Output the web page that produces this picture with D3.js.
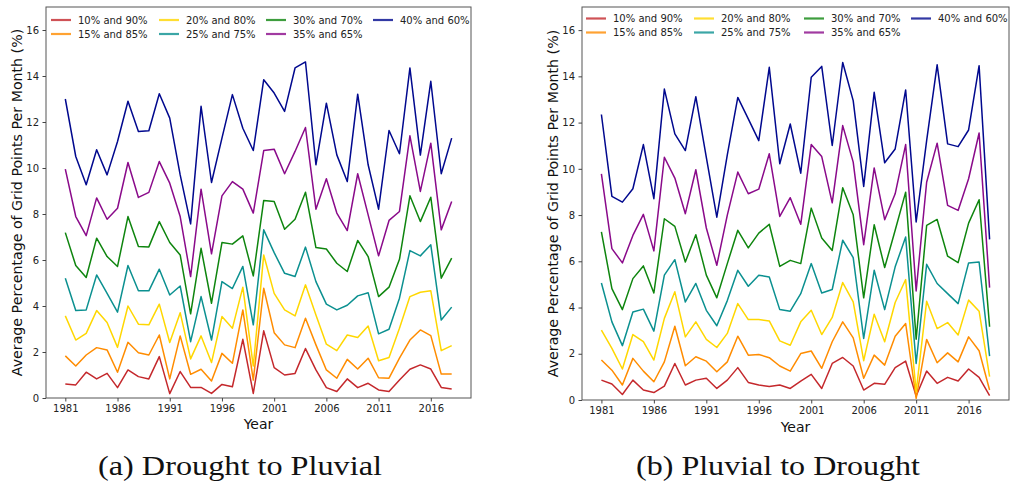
<!DOCTYPE html>
<html><head><meta charset="utf-8">
<script src="https://cdn.jsdelivr.net/npm/d3@7"></script>
<style>body{margin:0;background:#fff;} svg{display:block;}</style>
</head><body><svg id="c" width="1013" height="483"></svg>
<script>
const years = [1981,1982,1983,1984,1985,1986,1987,1988,1989,1990,1991,1992,1993,1994,1995,1996,1997,1998,1999,2000,2001,2002,2003,2004,2005,2006,2007,2008,2009,2010,2011,2012,2013,2014,2015,2016,2017,2018];
const seriesLabels = ["10% and 90%","15% and 85%","20% and 80%","25% and 75%","30% and 70%","35% and 65%","40% and 60%"];
const xTickValues = [1981,1986,1991,1996,2001,2006,2011,2016];
const yTickValues = [0,2,4,6,8,10,12,14,16];
const panelCaptions = ["(a) Drought to Pluvial","(b) Pluvial to Drought"];

// (a) Drought to Pluvial
const d2p_10 = [0.61,0.57,1.12,0.83,1.07,0.45,1.22,0.93,0.83,1.80,0.19,1.15,0.46,0.46,0.20,0.59,0.49,2.55,0.20,2.92,1.32,1.00,1.07,2.15,1.22,0.45,0.28,0.83,0.45,0.64,0.35,0.28,0.78,1.25,1.44,1.26,0.46,0.39];
const d2p_15 = [1.83,1.39,1.87,2.19,2.09,1.12,2.42,1.97,1.87,2.74,0.83,2.70,1.03,1.25,0.74,1.94,1.51,3.83,0.78,4.77,2.84,2.31,2.19,3.47,2.31,1.22,0.86,1.68,1.26,1.73,0.88,0.86,1.73,2.52,2.96,2.71,1.04,1.04];
const d2p_20 = [3.57,2.52,2.81,3.80,3.28,2.20,4.00,3.21,3.18,4.08,2.41,3.71,1.70,2.70,1.54,3.54,3.03,4.82,1.39,6.22,4.55,3.83,3.57,4.92,3.61,2.34,2.06,2.74,2.63,3.13,1.62,1.76,3.03,4.41,4.60,4.66,2.06,2.28];
const d2p_25 = [5.21,3.80,3.83,5.35,4.55,3.73,5.76,4.66,4.66,5.60,4.48,4.87,2.45,4.41,2.52,5.06,4.76,5.72,3.18,7.31,6.32,5.42,5.28,6.56,5.06,4.08,3.83,4.03,4.44,4.58,2.79,2.99,4.34,6.41,6.18,6.66,3.39,3.95];
const d2p_30 = [7.19,5.76,5.24,6.95,6.15,5.72,7.89,6.59,6.57,7.67,6.76,6.22,3.66,6.51,4.12,6.76,6.69,7.05,5.31,8.59,8.54,7.34,7.77,8.95,6.54,6.48,5.86,5.50,6.85,6.15,4.41,4.82,6.03,8.79,7.67,8.73,5.21,6.08];
const d2p_35 = [9.95,7.89,7.06,8.70,7.77,8.25,10.24,8.72,8.94,10.28,9.34,7.89,5.28,9.08,6.27,8.79,9.41,9.08,8.04,10.76,10.82,9.75,10.72,11.76,8.21,9.53,8.04,7.28,9.75,7.96,6.18,7.72,8.11,11.40,8.98,11.08,7.31,8.54];
const d2p_40 = [13.0,10.5,9.27,10.79,9.70,11.15,12.9,11.59,11.62,13.23,12.17,9.7,7.57,12.68,9.37,11.3,13.19,11.73,10.76,13.84,13.26,12.46,14.35,14.61,10.14,12.82,10.57,9.41,13.21,10.14,8.21,11.63,10.62,14.35,10.56,13.77,9.75,11.3];

// (b) Pluvial to Drought
const p2d_10 = [0.86,0.69,0.24,0.86,0.43,0.32,0.60,1.58,0.65,0.86,0.94,0.50,0.86,1.40,0.76,0.65,0.58,0.65,0.50,0.82,1.11,0.50,1.58,1.84,1.47,0.43,0.72,0.68,1.40,1.68,0.17,1.25,0.72,0.98,0.82,1.34,0.98,0.19];
const p2d_15 = [1.73,1.29,0.65,1.80,1.25,0.79,1.65,3.19,1.48,1.87,1.68,1.22,1.65,2.76,1.94,1.97,1.83,1.47,1.25,2.01,2.12,1.37,2.52,3.38,2.69,0.94,1.94,1.51,2.76,3.31,0.07,2.62,1.61,2.04,1.65,2.73,2.13,0.43];
const p2d_20 = [3.02,2.23,1.34,2.83,2.52,1.73,3.53,4.68,2.73,3.38,2.62,2.27,2.88,4.17,3.48,3.48,3.42,2.56,2.37,3.38,3.88,2.83,3.57,5.08,4.24,1.70,3.71,2.52,4.22,5.21,0.36,4.27,3.09,3.35,2.81,4.32,3.84,1.01];
const p2d_25 = [5.06,3.38,2.35,3.81,3.93,2.98,5.40,6.07,4.24,5.04,3.88,3.21,4.30,5.61,4.92,5.40,5.32,3.91,3.84,4.60,5.90,4.63,4.78,6.91,6.16,2.66,5.61,3.91,5.76,7.05,1.58,5.87,5.04,4.60,4.17,5.93,5.97,1.90];
const p2d_30 = [7.27,4.82,3.91,5.25,5.80,4.63,7.84,7.51,5.97,7.15,5.40,4.42,5.90,7.34,6.58,7.22,7.60,5.78,6.04,5.90,8.30,7.01,6.47,9.18,8.01,4.42,7.58,5.73,7.34,8.99,2.63,7.55,7.81,6.22,5.94,7.65,8.66,3.17];
const p2d_35 = [9.78,6.55,5.93,7.12,8.03,6.45,10.50,9.60,8.06,9.96,7.44,5.83,8.00,9.86,8.92,9.12,10.65,7.94,8.75,7.60,11.05,10.53,8.53,11.87,10.29,6.72,10.04,7.80,8.92,11.05,4.72,9.42,11.11,8.42,8.20,9.57,11.55,4.86];
const p2d_40 = [12.35,8.81,8.56,9.14,11.05,8.71,13.45,11.51,10.79,13.12,10.50,7.91,10.6,13.09,12.16,11.22,14.39,10.22,11.94,9.81,13.96,14.43,11.01,14.60,12.95,9.24,13.31,10.26,10.86,13.41,7.70,11.22,14.50,11.08,10.96,11.68,14.46,6.95];

const colors = ["#c4282c","#ff8c00","#ffd700","#0b9090","#0e850e","#8a0a8a","#00088e"];

const panels = [
  {series:[d2p_10,d2p_15,d2p_20,d2p_25,d2p_30,d2p_35,d2p_40], caption:panelCaptions[0],
   x0:46, x1:471, y0:7, y1:398, ylabX:17, yearY:429, capX:240, legendCols:[51,159,266,373], legendRows:[20,34]},
  {series:[p2d_10,p2d_15,p2d_20,p2d_25,p2d_30,p2d_35,p2d_40], caption:panelCaptions[1],
   x0:582, x1:1009, y0:7, y1:400, ylabX:553, yearY:432, capX:778, legendCols:[586,694,804,911], legendRows:[18.5,32.5]}
];

const svg = d3.select("#c");
const font = "DejaVu Sans, sans-serif";

panels.forEach((p, pi) => {
  const x = d3.scaleLinear().domain([1979.15, 2019.85]).range([p.x0, p.x1]);
  const y = d3.scaleLinear().domain([0, 17]).range([p.y1, p.y0]);
  const g = svg.append("g");

  const line = d3.line().x((d, i) => x(years[i])).y(d => y(d));
  p.series.forEach((s, si) => {
    g.append("path").datum(s).attr("d", line)
      .attr("fill", "none").attr("stroke", colors[si]).attr("stroke-width", 1.5)
      .attr("stroke-linejoin", "round");
  });

  g.append("rect").attr("x", p.x0).attr("y", p.y0).attr("width", p.x1 - p.x0).attr("height", p.y1 - p.y0)
    .attr("fill", "none").attr("stroke", "#555").attr("stroke-width", 1);

  const xa = g.append("g").attr("transform", `translate(0,${p.y1})`)
    .call(d3.axisBottom(x).tickValues(xTickValues).tickFormat(d3.format("d")).tickSize(3.5).tickPadding(3.5));
  const ya = g.append("g").attr("transform", `translate(${p.x0},0)`)
    .call(d3.axisLeft(y).tickValues(yTickValues).tickFormat(d3.format("d")).tickSize(3.5).tickPadding(3.5));
  [xa, ya].forEach(a => {
    a.select(".domain").remove();
    a.selectAll("line").attr("stroke", "#444");
    a.selectAll("text").attr("font-family", font).attr("font-size", 10).attr("fill", "#222");
  });

  g.append("text").attr("x", (p.x0 + p.x1) / 2).attr("y", p.yearY).attr("text-anchor", "middle")
    .attr("font-family", font).attr("font-size", 14).attr("fill", "#111").text("Year");
  g.append("text").attr("transform", `translate(${p.ylabX},${(p.y0 + p.y1) / 2}) rotate(-90)`)
    .attr("text-anchor", "middle").attr("dominant-baseline", "central")
    .attr("font-family", font).attr("font-size", 14.2).attr("fill", "#111")
    .text("Average Percentage of Grid Points Per Month (%)");

  seriesLabels.forEach((lab, si) => {
    const col = Math.floor(si / 2), row = si % 2;
    const lx = p.legendCols[col], ly = p.legendRows[row];
    g.append("line").attr("x1", lx).attr("x2", lx + 20).attr("y1", ly).attr("y2", ly)
      .attr("stroke", colors[si]).attr("stroke-width", 2.2).attr("opacity", 0.8);
    g.append("text").attr("x", lx + 27).attr("y", ly).attr("dominant-baseline", "central")
      .attr("font-family", font).attr("font-size", 10).attr("fill", "#222").text(lab);
  });

  g.append("text").attr("x", p.capX).attr("y", 475).attr("text-anchor", "middle")
    .attr("font-family", "'Liberation Serif', 'DejaVu Serif', serif").attr("font-size", 27).attr("fill", "#111")
    .attr("textLength", 284).attr("lengthAdjust", "spacingAndGlyphs")
    .text(p.caption);
});
</script></body></html>
